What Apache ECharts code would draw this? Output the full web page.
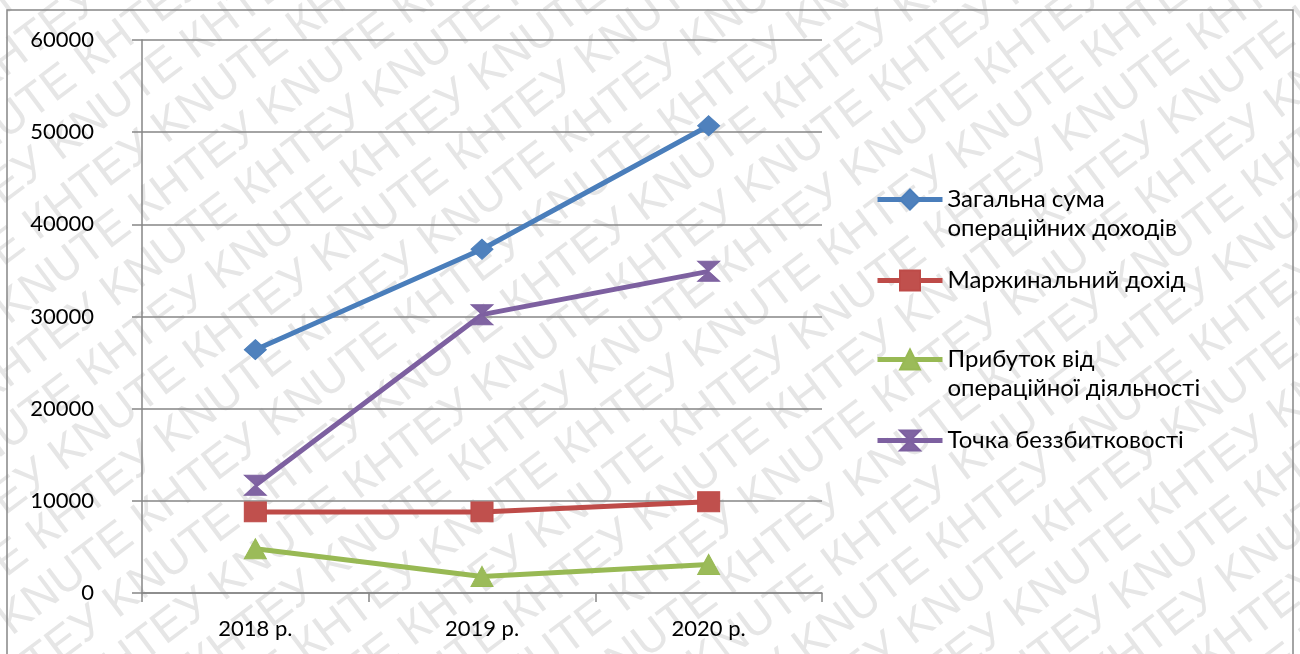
<!DOCTYPE html>
<html>
<head>
<meta charset="utf-8">
<script src="https://cdn.jsdelivr.net/npm/echarts@6/dist/echarts.min.js"></script>
<style>
  html, body { margin: 0; padding: 0; background: #ffffff; }
  #chart { width: 1300px; height: 654px; }
</style>
</head>
<body>
<div id="chart"></div>
<script>
// Categories and values
const years = ['2018 р.', '2019 р.', '2020 р.'];
const nameTotalIncome = 'Загальна сума\nопераційних доходів';
const nameMarginal = 'Маржинальний дохід';
const nameProfit = 'Прибуток від\nопераційної діяльності';
const nameBreakEven = 'Точка беззбитковості';

const totalOperatingIncome = [26400, 37300, 50700];
const marginalIncome = [8800, 8800, 9900];
const operatingProfit = [4800, 1800, 3100];
const breakEvenPoint = [11700, 30200, 34900];

const yMin = 0;
const yMax = 60000;
const yStep = 10000;

const FONT = 'Lato, "Open Sans", "Noto Sans", sans-serif';
const GRID_GRAY = '#868686';

// Diagonal "KNUTE КНТЕУ" background pattern
function buildWatermark() {
  const children = [];
  const rowText = 'KNUTE КНТЕУ '.repeat(14);
  const rowGap = 50;
  for (let r = -16; r <= 16; r++) {
    children.push({
      type: 'text',
      x: -1400 + ((r * 95) % 330 + 330) % 330,
      y: r * rowGap,
      style: {
        text: rowText,
        fill: '#e6e6e6',
        font: '46px "Liberation Sans", Arial, sans-serif',
        textVerticalAlign: 'middle'
      },
      silent: true
    });
  }
  return {
    type: 'group',
    x: 650,
    y: 327,
    rotation: 37 * Math.PI / 180,
    z: -10,
    silent: true,
    children: children
  };
}

function lineSeries(name, data, lineColor, fillColor, symbol) {
  return {
    name: name,
    type: 'line',
    data: data,
    symbol: symbol,
    symbolSize: [22, 20],
    showAllSymbol: true,
    lineStyle: { color: lineColor, width: 5 },
    itemStyle: { color: fillColor, borderColor: lineColor, borderWidth: 1 },
    emphasis: { disabled: true },
    z: 3
  };
}

// One legend block per entry; a leading empty line keeps the icon level with the first text line
function legendItem(name, top, twoLine) {
  return {
    data: [name],
    left: 875,
    top: top,
    orient: 'vertical',
    padding: 0,
    itemWidth: 65,
    itemHeight: 25,
    selectedMode: false,
    lineStyle: { width: 5 },
    formatter: twoLine ? function (n) { return '\n' + n; } : null,
    textStyle: {
      fontFamily: FONT,
      fontSize: 24,
      color: '#000000',
      lineHeight: 29
    }
  };
}

const hourglass = 'path://M0,0L20,0L10,9L20,18L0,18L10,9Z';

const chart = echarts.init(document.getElementById('chart'), null, { renderer: 'canvas' });
chart.setOption({
  backgroundColor: '#ffffff',
  animation: false,
  graphic: [
    buildWatermark(),
    {
      type: 'rect',
      shape: { x: 7, y: 10, width: 1286, height: 700 },
      style: { fill: 'none', stroke: GRID_GRAY, lineWidth: 1.5 },
      z: 100,
      silent: true
    }
  ],
  grid: { left: 142, right: 478, top: 40, bottom: 61, containLabel: false },
  xAxis: {
    type: 'category',
    data: years,
    boundaryGap: true,
    axisLine: { show: true, lineStyle: { color: GRID_GRAY, width: 1.5 } },
    axisTick: { show: true, length: 9, lineStyle: { color: GRID_GRAY, width: 1.5 } },
    axisLabel: { fontFamily: FONT, fontSize: 22, color: '#000000', margin: 25 },
    splitLine: { show: false }
  },
  yAxis: {
    type: 'value',
    min: yMin,
    max: yMax,
    interval: yStep,
    axisLine: { show: true, lineStyle: { color: GRID_GRAY, width: 1.5 } },
    axisTick: { show: true, length: 10, lineStyle: { color: GRID_GRAY, width: 1.5 } },
    axisLabel: {
      fontFamily: FONT,
      fontSize: 22,
      color: '#000000',
      margin: 48,
      formatter: function (v) { return String(v); }
    },
    splitLine: { show: true, lineStyle: { color: GRID_GRAY, width: 1.5 } }
  },
  legend: [
    legendItem(nameTotalIncome, 156, true),
    legendItem(nameMarginal, 266, false),
    legendItem(nameProfit, 316, true),
    legendItem(nameBreakEven, 426, false)
  ],
  series: [
    lineSeries(nameTotalIncome, totalOperatingIncome, '#4a7ebb', '#4f81bd', 'diamond'),
    lineSeries(nameMarginal, marginalIncome, '#be4b48', '#c0504d', 'rect'),
    lineSeries(nameProfit, operatingProfit, '#98b954', '#9bbb59', 'triangle'),
    lineSeries(nameBreakEven, breakEvenPoint, '#7d60a0', '#8064a2', hourglass)
  ]
});
</script>
</body>
</html>
